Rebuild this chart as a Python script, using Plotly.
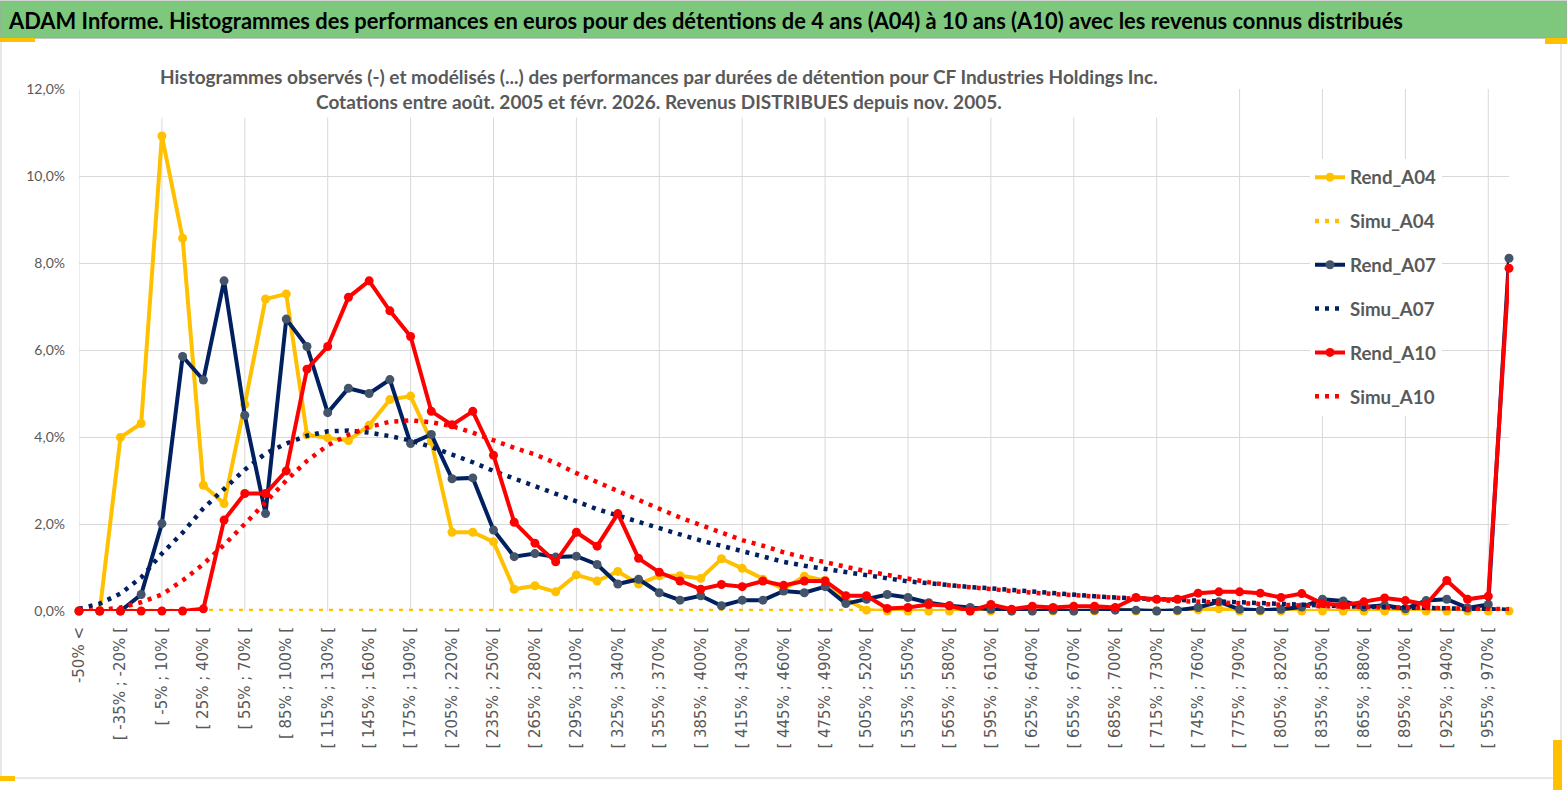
import plotly.graph_objects as go

# Categories (performance buckets, step 15%)
labels = [
    "-50% <", "[ -50% ; -35% [", "[ -35% ; -20% [", "[ -20% ; -5% [", "[ -5% ; 10% [",
    "[ 10% ; 25% [", "[ 25% ; 40% [", "[ 40% ; 55% [", "[ 55% ; 70% [", "[ 70% ; 85% [",
    "[ 85% ; 100% [", "[ 100% ; 115% [", "[ 115% ; 130% [", "[ 130% ; 145% [", "[ 145% ; 160% [",
    "[ 160% ; 175% [", "[ 175% ; 190% [", "[ 190% ; 205% [", "[ 205% ; 220% [", "[ 220% ; 235% [",
    "[ 235% ; 250% [", "[ 250% ; 265% [", "[ 265% ; 280% [", "[ 280% ; 295% [", "[ 295% ; 310% [",
    "[ 310% ; 325% [", "[ 325% ; 340% [", "[ 340% ; 355% [", "[ 355% ; 370% [", "[ 370% ; 385% [",
    "[ 385% ; 400% [", "[ 400% ; 415% [", "[ 415% ; 430% [", "[ 430% ; 445% [", "[ 445% ; 460% [",
    "[ 460% ; 475% [", "[ 475% ; 490% [", "[ 490% ; 505% [", "[ 505% ; 520% [", "[ 520% ; 535% [",
    "[ 535% ; 550% [", "[ 550% ; 565% [", "[ 565% ; 580% [", "[ 580% ; 595% [", "[ 595% ; 610% [",
    "[ 610% ; 625% [", "[ 625% ; 640% [", "[ 640% ; 655% [", "[ 655% ; 670% [", "[ 670% ; 685% [",
    "[ 685% ; 700% [", "[ 700% ; 715% [", "[ 715% ; 730% [", "[ 730% ; 745% [", "[ 745% ; 760% [",
    "[ 760% ; 775% [", "[ 775% ; 790% [", "[ 790% ; 805% [", "[ 805% ; 820% [", "[ 820% ; 835% [",
    "[ 835% ; 850% [", "[ 850% ; 865% [", "[ 865% ; 880% [", "[ 880% ; 895% [", "[ 895% ; 910% [",
    "[ 910% ; 925% [", "[ 925% ; 940% [", "[ 940% ; 955% [", "[ 955% ; 970% [", "970% >",
]
pos = list(range(len(labels)))

# Observed histograms (%)
rend_a04 = [0, 0, 3.99, 4.31, 10.92, 8.57, 2.89, 2.47, 4.75, 7.17,
            7.29, 4.05, 3.98, 3.92, 4.27, 4.86, 4.94, 3.9, 1.81, 1.81,
            1.59, 0.5, 0.58, 0.44, 0.83, 0.69, 0.91, 0.62, 0.81, 0.81,
            0.75, 1.2, 0.98, 0.73, 0.5, 0.8, 0.7, 0.27, 0.02, 0,
            0, 0, 0, 0, 0, 0, 0, 0, 0, 0,
            0.05, 0, 0, 0, 0.03, 0.05, 0, 0, 0, 0,
            0, 0, 0, 0, 0, 0, 0, 0, 0, 0]
rend_a07 = [0, 0, 0, 0.38, 2.01, 5.85, 5.31, 7.59, 4.5, 2.24,
            6.71, 6.08, 4.56, 5.12, 5.0, 5.32, 3.85, 4.06, 3.04, 3.06,
            1.86, 1.25, 1.32, 1.24, 1.26, 1.07, 0.62, 0.73, 0.42, 0.25,
            0.35, 0.12, 0.25, 0.25, 0.46, 0.42, 0.56, 0.17, 0.27, 0.38,
            0.31, 0.19, 0.12, 0.08, 0.04, 0, 0, 0.02, 0, 0.02,
            0.02, 0.02, 0, 0.02, 0.08, 0.21, 0.04, 0.02, 0.04, 0.09,
            0.27, 0.23, 0.09, 0.13, 0.05, 0.24, 0.27, 0.07, 0.15, 8.11]
rend_a10 = [0, 0, 0, 0, 0, 0, 0.05, 2.09, 2.7, 2.7,
            3.22, 5.56, 6.08, 7.21, 7.59, 6.9, 6.31, 4.59, 4.28, 4.59,
            3.58, 2.04, 1.56, 1.13, 1.81, 1.49, 2.24, 1.21, 0.89, 0.69,
            0.5, 0.61, 0.56, 0.69, 0.59, 0.69, 0.69, 0.35, 0.35, 0.06,
            0.08, 0.15, 0.12, 0, 0.15, 0.04, 0.11, 0.08, 0.11, 0.11,
            0.08, 0.31, 0.27, 0.27, 0.41, 0.44, 0.44, 0.41, 0.31, 0.4,
            0.17, 0.13, 0.21, 0.3, 0.24, 0.15, 0.7, 0.27, 0.34, 7.88]

# Modelled histograms (%)
simu_a04 = [0] * 70
simu_a07 = [0.05, 0.17, 0.4, 0.77, 1.32, 1.8, 2.36, 2.82, 3.25, 3.62,
            3.85, 4.03, 4.13, 4.15, 4.1, 4.02, 3.92, 3.77, 3.6, 3.42,
            3.22, 3.05, 2.88, 2.7, 2.52, 2.34, 2.19, 2.04, 1.9, 1.76,
            1.62, 1.5, 1.38, 1.25, 1.13, 1.04, 0.97, 0.89, 0.81, 0.74,
            0.68, 0.64, 0.59, 0.55, 0.52, 0.48, 0.44, 0.4, 0.37, 0.34,
            0.31, 0.29, 0.27, 0.25, 0.23, 0.21, 0.19, 0.17, 0.15, 0.14,
            0.12, 0.11, 0.1, 0.09, 0.08, 0.07, 0.06, 0.05, 0.04, 0.03]
simu_a10 = [0, 0.02, 0.08, 0.2, 0.38, 0.7, 1.08, 1.52, 2.0, 2.5,
            3.0, 3.45, 3.81, 4.05, 4.23, 4.35, 4.38, 4.34, 4.25, 4.1,
            3.92, 3.75, 3.6, 3.4, 3.17, 2.96, 2.75, 2.55, 2.35, 2.15,
            1.97, 1.79, 1.63, 1.5, 1.35, 1.23, 1.12, 1.0, 0.91, 0.83,
            0.74, 0.66, 0.59, 0.54, 0.5, 0.46, 0.42, 0.39, 0.35, 0.32,
            0.29, 0.27, 0.25, 0.23, 0.21, 0.19, 0.17, 0.15, 0.14, 0.12,
            0.11, 0.1, 0.09, 0.08, 0.07, 0.06, 0.06, 0.05, 0.05, 0.04]

YELLOW = "#ffc000"
NAVY = "#002060"
NAVY_MK = "#44546a"
RED = "#ff0000"
GREY_TXT = "#595959"
GRID = "#d9d9d9"

W, H = 1567, 791
ML, MR, MT, MB = 79, 58, 89, 180
PW, PH = W - ML - MR, H - MT - MB


def px(x):
    return (x - ML) / PW


def py(y):
    return (H - MB - y) / PH


fig = go.Figure()

series = [
    ("Rend_A04", rend_a04, YELLOW, YELLOW, True),
    ("Simu_A04", simu_a04, YELLOW, None, False),
    ("Rend_A07", rend_a07, NAVY, NAVY_MK, True),
    ("Simu_A07", simu_a07, NAVY, None, False),
    ("Rend_A10", rend_a10, RED, RED, True),
    ("Simu_A10", simu_a10, RED, None, False),
]
for name, vals, col, mk, solid in series:
    if solid:
        fig.add_trace(go.Scatter(
            x=pos, y=vals, name=name, legendgroup=name, mode="lines+markers",
            line=dict(color=col, width=4),
            marker=dict(color=mk, size=9),
            cliponaxis=False,
        ))
    else:
        fig.add_trace(go.Scatter(
            x=pos, y=vals, name=name, legendgroup=name, mode="lines",
            line=dict(color=col, width=4.5, dash="4px,6px"),
            cliponaxis=False,
        ))

fig.update_layout(
    width=W, height=H,
    margin=dict(l=ML, r=MR, t=MT, b=MB),
    paper_bgcolor="white", plot_bgcolor="white",
    separators=", ",
    font=dict(family="Lato, Noto Sans, sans-serif", color=GREY_TXT),
    showlegend=True,
    legend=dict(
        x=px(1310), y=py(158.5), xanchor="left", yanchor="top",
        bgcolor="white", borderwidth=0, tracegroupgap=16.5,
        font=dict(size=18.7, family="Lato, sans-serif", color=GREY_TXT, weight="bold"),
    ),
    xaxis=dict(
        range=[0, len(labels) - 1], tickvals=pos[::2], ticktext=labels[::2],
        tickangle=-90, showgrid=False, zeroline=False, showline=False, ticks="",
        ticklabelstandoff=12,
        tickfont=dict(family="DejaVu Sans", size=15, color=GREY_TXT),
    ),
    yaxis=dict(
        range=[0, 12], dtick=2, tickformat=".1f", ticksuffix="%",
        showgrid=True, gridcolor=GRID, gridwidth=1, zeroline=False,
        showline=False, ticks="", ticklabelstandoff=13,
        tickfont=dict(family="Lato", size=14, color=GREY_TXT),
    ),
)

# vertical grid every 4th category
for p in pos[::4]:
    fig.add_shape(type="line", xref="x", yref="paper", x0=p, x1=p, y0=0, y1=1,
                  line=dict(color=GRID, width=1), layer="below")

# title banner
fig.add_shape(type="rect", xref="paper", yref="paper",
              x0=px(0), x1=px(W), y0=py(38), y1=py(1),
              fillcolor="#7dc87d", line=dict(color="#a6a6a6", width=1), layer="above")
fig.add_annotation(
    xref="paper", yref="paper", x=px(6), y=py(20), xanchor="left", yanchor="middle",
    showarrow=False,
    text="ADAM Informe. Histogrammes des performances en euros pour des détentions de 4 ans (A04) à 10 ans (A10) avec les revenus connus distribués",
    font=dict(family="Lato", size=21.9, color="black", weight="bold"),
)

# chart title box (hides grid behind it)
fig.add_annotation(
    xref="paper", yref="paper", x=px(659), y=py(89), xanchor="center", yanchor="middle",
    showarrow=False, bgcolor="white", borderpad=4,
    text="Histogrammes observés (-) et modélisés (...) des performances par durées de détention pour CF Industries Holdings Inc.<br>"
         "Cotations entre août. 2005 et févr. 2026. Revenus DISTRIBUES depuis nov. 2005.",
    font=dict(family="Lato", size=19, color=GREY_TXT, weight="bold"),
    align="center",
)

# chart frame and corner handles
fig.add_shape(type="rect", xref="paper", yref="paper",
              x0=px(1), x1=px(1561), y0=py(778), y1=py(38),
              line=dict(color="#d0d0d0", width=1), layer="below")
for x0, x1, y0, y1 in [(0, 35, 38, 42), (1545, 1567, 38, 44), (0, 15, 776, 781), (1553, 1562, 740, 790)]:
    fig.add_shape(type="rect", xref="paper", yref="paper",
                  x0=px(x0), x1=px(x1), y0=py(y1), y1=py(y0),
                  fillcolor=YELLOW, line=dict(width=0), layer="above")

fig.write_html("out.html", config={"displayModeBar": False},
               post_script="document.body.style.margin='0px';")
